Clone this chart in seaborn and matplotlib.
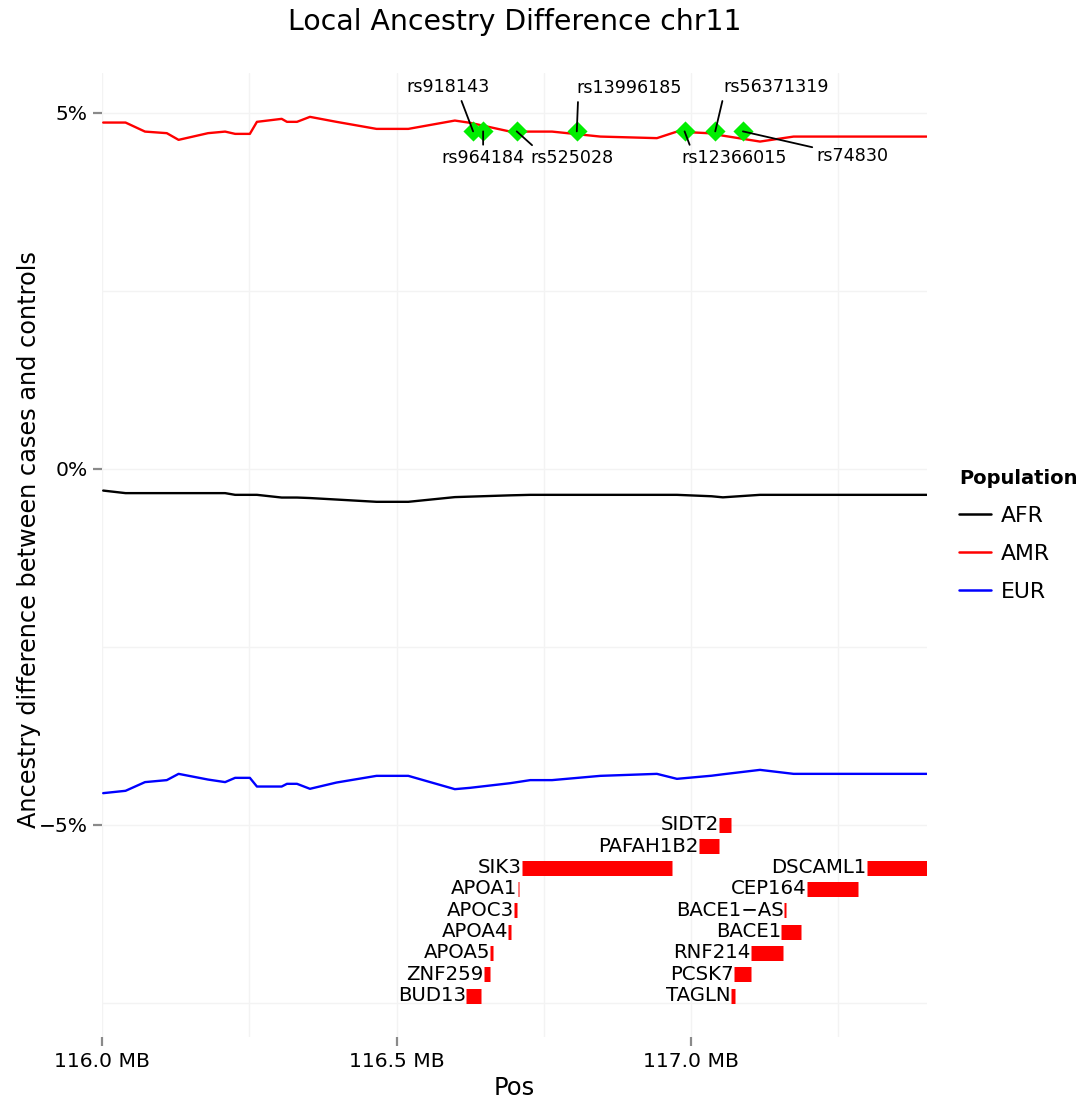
import numpy as np
import pandas as pd
import seaborn as sns
import matplotlib
matplotlib.use("Agg")
import matplotlib.pyplot as plt

# ---------------- data ----------------
pos_mb = [116.002, 116.040, 116.073, 116.110, 116.130, 116.180, 116.209, 116.226,
          116.251, 116.263, 116.305, 116.314, 116.331, 116.353, 116.398, 116.466,
          116.520, 116.599, 116.625, 116.693, 116.727, 116.764, 116.846, 116.942,
          116.976, 117.035, 117.054, 117.117, 117.174, 117.400]

afr = [-0.305, -0.341, -0.341, -0.341, -0.341, -0.341, -0.341, -0.365,
       -0.365, -0.365, -0.403, -0.403, -0.403, -0.410, -0.431, -0.463,
       -0.463, -0.397, -0.390, -0.372, -0.365, -0.365, -0.365, -0.365,
       -0.365, -0.385, -0.400, -0.365, -0.365, -0.365]

amr = [4.864, 4.864, 4.737, 4.715, 4.621, 4.715, 4.737, 4.705,
       4.705, 4.874, 4.916, 4.874, 4.874, 4.944, 4.874, 4.775,
       4.775, 4.892, 4.860, 4.737, 4.737, 4.737, 4.667, 4.645,
       4.737, 4.712, 4.680, 4.597, 4.667, 4.667]

eur = [-4.555, -4.522, -4.400, -4.372, -4.284, -4.364, -4.400, -4.340,
       -4.340, -4.462, -4.462, -4.424, -4.424, -4.494, -4.406, -4.312,
       -4.312, -4.499, -4.480, -4.415, -4.372, -4.372, -4.312, -4.284,
       -4.354, -4.310, -4.290, -4.228, -4.284, -4.284]

populations = ["AFR", "AMR", "EUR"]

snp_ids = ["rs918143", "rs964184", "rs525028", "rs13996185",
           "rs12366015", "rs56371319", "rs74830"]
snp_pos = [116.630, 116.647, 116.704, 116.806, 116.989, 117.041, 117.088]
snp_val = [4.74, 4.74, 4.74, 4.74, 4.74, 4.74, 4.74]

gene_names = ["SIDT2", "PAFAH1B2", "SIK3", "APOA1", "APOC3", "APOA4", "APOA5",
              "ZNF259", "BUD13", "DSCAML1", "CEP164", "BACE1\u2212AS", "BACE1",
              "RNF214", "PCSK7", "TAGLN"]
gene_start = [117.047, 117.013, 116.713, 116.7055, 116.700, 116.690, 116.659,
              116.648, 116.618, 117.298, 117.197, 117.1575, 117.153,
              117.101, 117.073, 117.067]
gene_end = [117.068, 117.047, 116.968, 116.708, 116.704, 116.694, 116.663,
            116.659, 116.644, 117.668, 117.283, 117.161, 117.186,
            117.156, 117.102, 117.074]
gene_row = [-5.0, -5.3, -5.6, -5.9, -6.2, -6.5, -6.8, -7.1, -7.4,
            -5.6, -5.9, -6.2, -6.5, -6.8, -7.1, -7.4]

x_ticks = [116.0, 116.5, 117.0]
x_tick_labels = ["116.0 MB", "116.5 MB", "117.0 MB"]
y_ticks = [-5, 0, 5]
y_tick_labels = ["\u22125%", "0%", "5%"]

# ---------------- layout / style ----------------
label_offsets_px = [(-25, 44), (0, -27), (55, -27), (52, 43),
                    (50, -27), (61, 44), (110, -25)]
label_relpos = [(0.64, 0.0), (0.5, 1.0), (0.08, 1.0), (0.02, 0.0),
                (0.09, 1.0), (0.0, 0.0), (0.0, 0.95)]

sns.set_theme(style="whitegrid")
plt.rcParams["font.family"] = ["DejaVu Sans"]
plt.rcParams["text.color"] = "black"
plt.rcParams["axes.labelcolor"] = "black"
plt.rcParams["xtick.color"] = "black"
plt.rcParams["ytick.color"] = "black"

W, H = 1081, 1103
fig = plt.figure(figsize=(W / 100, H / 100), dpi=100)
px_left, px_right, px_top, px_bottom = 102, 926.7, 73, 1037
ax = fig.add_axes([px_left / W, 1 - px_bottom / H,
                   (px_right - px_left) / W, (px_bottom - px_top) / H])

df = pd.DataFrame({
    "Pos": pos_mb * 3,
    "Diff": afr + amr + eur,
    "Population": [p for p in populations for _ in pos_mb],
})

palette = {"AFR": "black", "AMR": "red", "EUR": "blue"}
sns.lineplot(data=df, x="Pos", y="Diff", hue="Population", palette=palette,
             estimator=None, sort=False, linewidth=1.7, ax=ax, zorder=3)

# gene bars
ax.hlines(gene_row, gene_start, gene_end, colors="red", linewidth=10.8,
          capstyle="butt", zorder=3)
for name, s, r in zip(gene_names, gene_start, gene_row):
    ax.text(s, r, name, ha="right", va="center", fontsize=14.2,
            color="black", zorder=4)

# SNPs
snp_df = pd.DataFrame({"Pos": snp_pos, "Diff": snp_val, "SNP": snp_ids})
sns.scatterplot(data=snp_df, x="Pos", y="Diff", marker="D", s=105,
                color="#00ee00", linewidth=0, ax=ax, zorder=5, legend=False)
for sid, x, y, (dx, dy), rp in zip(snp_ids, snp_pos, snp_val,
                                   label_offsets_px, label_relpos):
    ax.annotate(sid, xy=(x, y), xytext=(dx, dy), textcoords="offset pixels",
                ha="center", va="center", fontsize=12.6, zorder=6,
                arrowprops=dict(arrowstyle="-", color="black", lw=1.3,
                                shrinkA=1, shrinkB=0, relpos=rp))

# axes
ax.set_xlim(116.0, 117.4)
ax.set_ylim(-7.98, 5.56)
ax.set_xticks(x_ticks)
ax.set_xticklabels(x_tick_labels)
ax.set_yticks(y_ticks)
ax.set_yticklabels(y_tick_labels)
ax.set_xticks([116.25, 116.75, 117.25], minor=True)
ax.set_yticks([-7.5, -2.5, 2.5], minor=True)
ax.grid(which="both", color="#f3f3f3", linewidth=1.0)
ax.set_axisbelow(True)
for sp in ax.spines.values():
    sp.set_visible(False)
ax.tick_params(which="major", bottom=True, left=True, length=6.2, width=1.6,
               color="#8a8a8a", labelsize=14.6, labelcolor="black", pad=4.3)
ax.tick_params(which="minor", length=0)

ax.set_xlabel("Pos", fontsize=17.5)
ax.set_ylabel("Ancestry difference between cases and controls", fontsize=17.3)
ax.xaxis.set_label_coords(0.5, -0.040)
ax.yaxis.set_label_coords(-0.074, 0.5156)
ax.set_title("Local Ancestry Difference chr11", fontsize=20.4, color="black",
             y=(px_bottom - 22) / (px_bottom - px_top), va="center", pad=0)

sns.move_legend(ax, "upper left", bbox_to_anchor=(959 / W, 1 - 469 / H),
                bbox_transform=fig.transFigure, frameon=False,
                title="Population", fontsize=15.8, handlelength=1.45,
                handletextpad=0.45, labelspacing=0.82, borderaxespad=0,
                borderpad=0)
leg = ax.get_legend()
leg.get_title().set_fontweight("bold")
leg.get_title().set_fontsize(14.0)
leg._legend_box.align = "left"
for line in leg.get_lines():
    line.set_linewidth(1.8)

fig.savefig("out.png", dpi=100)
